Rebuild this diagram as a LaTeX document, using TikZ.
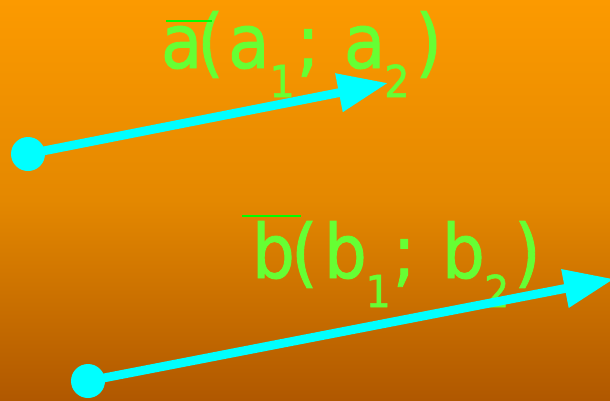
\documentclass[tikz,border=0pt]{standalone}
\usepackage{fontspec}
\usetikzlibrary{arrows.meta}
\newfontfamily\vecfont[FakeStretch=0.9,FakeBold=1.2]{DejaVu Sans}
\definecolor{bgtop}{RGB}{252,154,0}
\definecolor{bgmid}{RGB}{228,136,0}
\definecolor{bgbot}{RGB}{176,88,0}
\definecolor{txtgreen}{RGB}{102,255,51}
\definecolor{barcol}{RGB}{0,255,0}
\definecolor{veccyan}{RGB}{0,255,255}
\newcommand{\sbs}[1]{\raisebox{-29pt}{\fontsize{44}{44}\selectfont #1}}
\begin{document}
\begin{tikzpicture}[x=1pt,y=-1pt,
  vlabel/.style={anchor=base west, inner sep=0pt, outer sep=0pt, text=txtgreen,
    font=\vecfont\fontsize{75}{75}\selectfont},
  vec/.style={draw=veccyan, line width=8.8pt, -{Triangle[length=50pt,width=37pt]}},
  vdot/.style={circle, fill=veccyan, minimum size=34pt, inner sep=0pt},
  obar/.style={draw=barcol, line width=2.5pt}]
\useasboundingbox (0,0) rectangle (610,400);
\clip (0,0) rectangle (610,400);
\shade[top color=bgtop, bottom color=bgbot, middle color=bgmid] (0,0) rectangle (610,400);
% labels
\node[vlabel] (la) at (161,68) {a\kern-5pt(\kern4.5pt a\sbs{1}\kern2pt;\ \kern3pt a\kern-1pt\sbs{2}\kern6pt)};
\node[vlabel] (lb) at (252,278) {b\kern-3.6pt(\kern6.4pt b\kern-1.2pt\sbs{1}\kern2pt;\ \kern5pt b\kern-0.8pt\sbs{2}\kern5pt)};
% overlines
\coordinate (oa1) at (166,21);
\coordinate (oa2) at (212,21);
\draw[obar] (oa1) -- (oa2);
\coordinate (ob1) at (242,216);
\coordinate (ob2) at (301,216);
\draw[obar] (ob1) -- (ob2);
% vectors
\node[vdot] (sa) at (28,154) {};
\coordinate (ta) at (388,83);
\draw[vec] (sa.center) -- (ta);
\node[vdot] (sb) at (88,381) {};
\coordinate (tb) at (614,279);
\draw[vec] (sb.center) -- (tb);
\end{tikzpicture}
\end{document}
